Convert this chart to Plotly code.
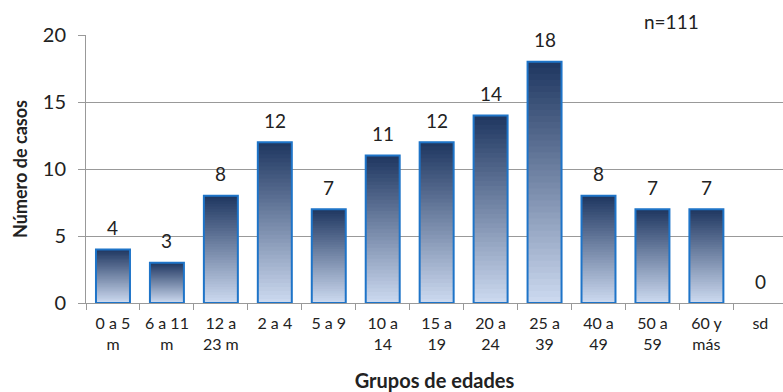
import plotly.graph_objects as go

categories = ["0 a 5<br>m", "6 a 11<br>m", "12 a<br>23 m", "2 a 4", "5 a 9", "10 a<br>14",
              "15 a<br>19", "20 a<br>24", "25 a<br>39", "40 a<br>49", "50 a<br>59", "60 y<br>más", "sd"]
casos = [4, 3, 8, 12, 7, 11, 12, 14, 18, 8, 7, 7, 0]
n_total = "n=111"

FONT = "Lato"
N_SEG = 40
top_rgb = (30, 54, 96)
bot_rgb = (205, 218, 240)

def mix(t):
    c = [round(b + (a - b) * t) for a, b in zip(top_rgb, bot_rgb)]
    return f"rgb({c[0]},{c[1]},{c[2]})"

fig = go.Figure()
WIDTH = 0.63
# gradient: nested bars from full height down to the smallest, each covering the ones below
for k in range(N_SEG - 1, -1, -1):
    frac = (k + 1) / N_SEG
    t = (k + 0.5) / N_SEG
    fig.add_trace(go.Bar(
        x=categories,
        y=[v * frac for v in casos],
        width=WIDTH,
        marker=dict(color=mix(t), line=dict(width=0)),
        hoverinfo="skip", showlegend=False,
    ))
# outline
fig.add_trace(go.Bar(
    x=categories, y=casos, width=WIDTH,
    marker=dict(color="rgba(0,0,0,0)",
                line=dict(color="#1E74C8", width=[2 if v > 0 else 0 for v in casos])),
    showlegend=False,
))

for c, v in zip(categories, casos):
    fig.add_annotation(x=c, y=v, text=str(v), showarrow=False, yshift=22,
                       font=dict(family=FONT, size=19, color="#222"))

fig.add_annotation(x=1, y=1, xref="paper", yref="paper", xanchor="right", yanchor="bottom",
                   xshift=-82, yshift=0, text=n_total, showarrow=False,
                   font=dict(family=FONT, size=19, color="#222"))

fig.update_layout(
    width=783, height=392,
    margin=dict(l=86, r=0, t=35, b=89),
    barmode="overlay",
    plot_bgcolor="white", paper_bgcolor="white",
    font=dict(family=FONT, color="#222"),
    xaxis=dict(
        range=[-0.5, 12.42], tickson="boundaries", ticks="outside", ticklen=6,
        tickcolor="#999", showline=True, linecolor="#999", linewidth=1,
        tickfont=dict(size=16, family=FONT), tickangle=0, ticklabelstandoff=6,
        title=dict(text="<b>Grupos de edades</b>", font=dict(size=20, family=FONT), standoff=22),
    ),
    yaxis=dict(
        range=[0, 20], dtick=5, showgrid=True, gridcolor="#999", gridwidth=1,
        ticks="outside", ticklen=7, tickcolor="#999",
        showline=True, linecolor="#999", linewidth=1, zeroline=False,
        tickfont=dict(size=20, family=FONT), ticklabelstandoff=8,
        title=dict(text="<b>Número de casos</b>", font=dict(size=18, family=FONT), standoff=10),
    ),
)

fig.write_html("out.html")
